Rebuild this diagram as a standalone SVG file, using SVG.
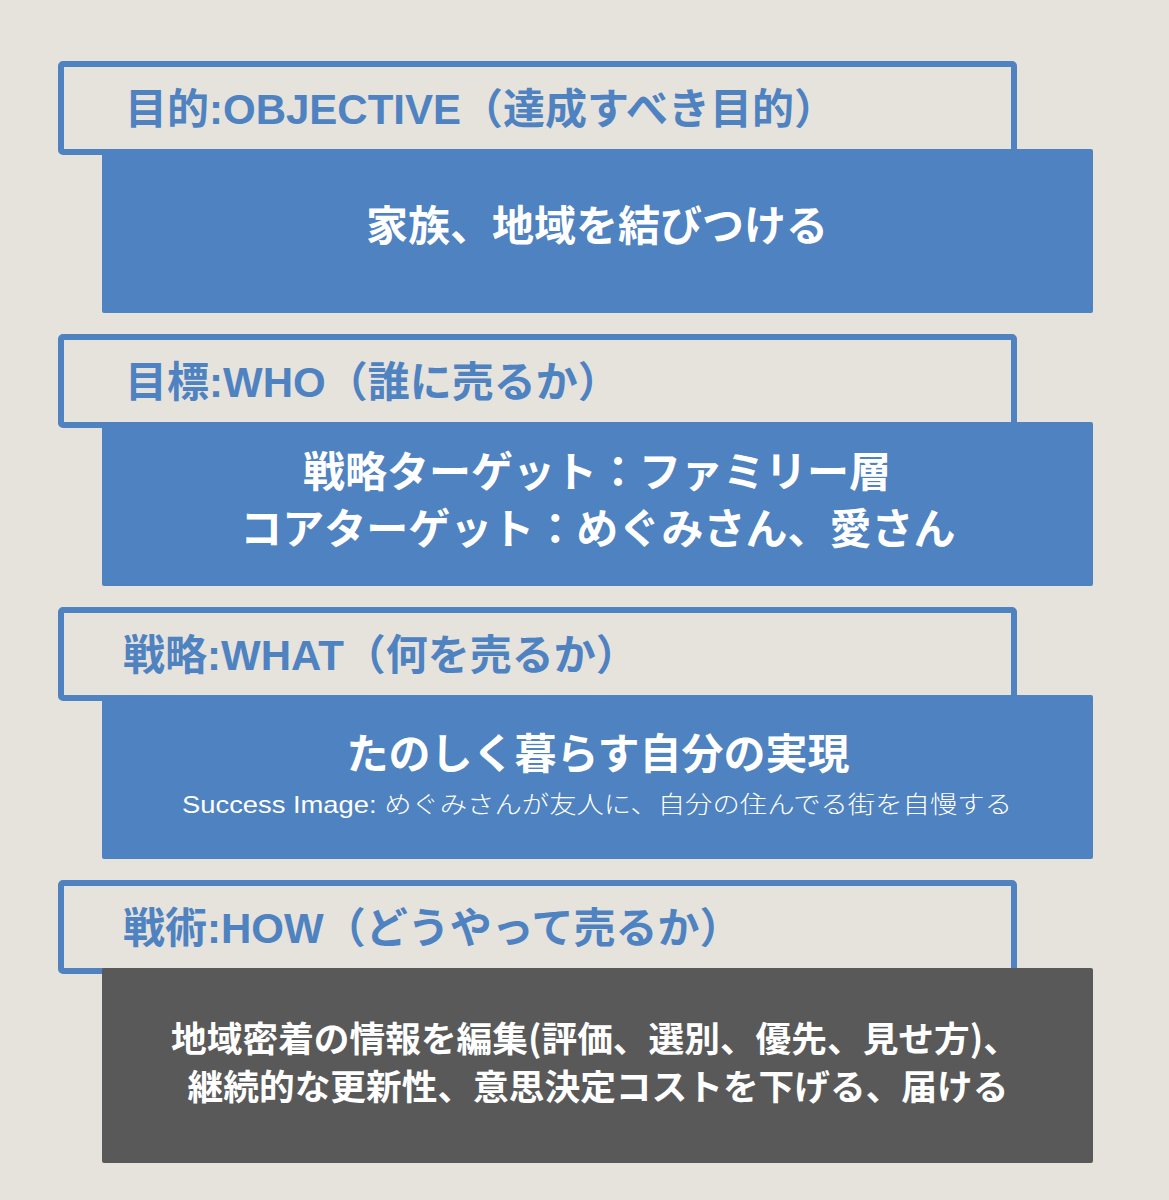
<svg xmlns="http://www.w3.org/2000/svg" width="1169" height="1200" viewBox="0 0 1169 1200">
<style>
.hdr{fill:#E6E3DD;stroke:#4E82C0;stroke-width:6}
.body{fill:#4E82C0}
.dark{fill:#595959}
.ht{font-family:"Liberation Sans","Noto Sans CJK JP",sans-serif;font-weight:700;font-size:42px;fill:#4E82C0}
.bt{font-family:"Noto Sans CJK JP","Noto Sans",sans-serif;font-weight:700;font-size:42px;fill:#FFFFFF;text-anchor:middle}
.st{font-family:"Liberation Sans","Noto Sans CJK JP",sans-serif;font-weight:300;font-size:24px;fill:#FFFFFF;text-anchor:middle}
.dt{font-family:"Noto Sans CJK JP","Noto Sans",sans-serif;font-weight:700;font-size:35.7px;fill:#FFFFFF;text-anchor:middle}
</style>
<rect width="1169" height="1200" fill="#E6E3DD"/>
<g id="connectors"></g>
<g id="objective">
<rect class="hdr" x="61" y="64" width="953" height="88" rx="2"/>
<rect class="body" x="102" y="149" width="991" height="164" rx="2"/>
<text class="ht" x="125" y="124">目的:OBJECTIVE（達成すべき目的）</text>
<text class="bt" x="597" y="241">家族、地域を結びつける</text>
</g>
<g id="who">
<rect class="hdr" x="61" y="337" width="953" height="88" rx="2"/>
<rect class="body" x="102" y="422" width="991" height="164" rx="2"/>
<text class="ht" x="125" y="397">目標:WHO（誰に売るか）</text>
<text class="bt" x="597" y="487">戦略ターゲット：ファミリー層</text>
<text class="bt" x="598" y="544">コアターゲット：めぐみさん、愛さん</text>
</g>
<g id="what">
<rect class="hdr" x="61" y="610" width="953" height="88" rx="2"/>
<rect class="body" x="102" y="695" width="991" height="164" rx="2"/>
<text class="ht" x="123" y="670">戦略:WHAT（何を売るか）</text>
<text class="bt" x="598" y="769">たのしく暮らす自分の実現</text>
<text class="st" x="597" y="813" textLength="830" lengthAdjust="spacingAndGlyphs">Success Image: めぐみさんが友人に、自分の住んでる街を自慢する</text>
</g>
<g id="how">
<rect class="hdr" x="61" y="883" width="953" height="88" rx="2"/>
<rect class="dark" x="102" y="968" width="991" height="195" rx="2"/>
<text class="ht" x="123" y="943">戦術:HOW（どうやって売るか）</text>
<text class="dt" x="595" y="1052">地域密着の情報を編集(評価、選別、優先、見せ方)、</text>
<text class="dt" x="598" y="1100">継続的な更新性、意思決定コストを下げる、届ける</text>
</g>
</svg>
